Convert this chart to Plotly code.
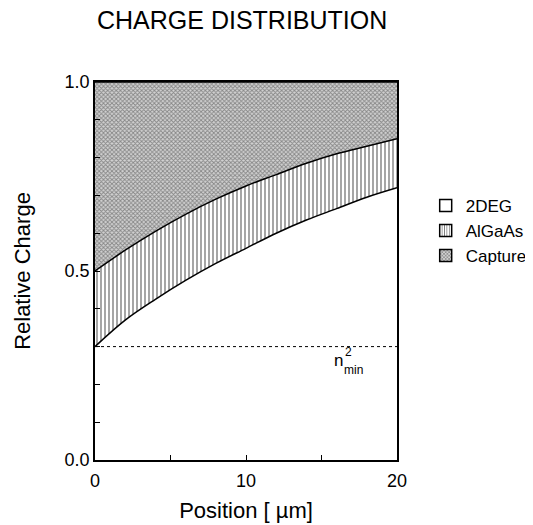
import plotly.graph_objects as go

# Data
position = [0, 2, 4, 6, 8, 10, 12, 14, 16, 18, 20]
deg2_top = [0.30, 0.37, 0.425, 0.475, 0.52, 0.56, 0.60, 0.635, 0.665, 0.695, 0.72]
algaas_top = [0.50, 0.555, 0.605, 0.65, 0.69, 0.725, 0.755, 0.785, 0.81, 0.83, 0.85]
capture_top = [1.0] * len(position)
n_min = 0.3

series_names = ["2DEG", "AlGaAs", "Capture"]

y_ticks = [0.0, 0.1, 0.2, 0.3, 0.4, 0.5, 0.6, 0.7, 0.8, 0.9, 1.0]
y_ticktext = ["0.0", "", "", "", "", "0.5", "", "", "", "", "1.0"]
x_ticks = [0, 5, 10, 15, 20]
x_ticktext = ["0", "", "10", "", "20"]

FONT = "Liberation Sans, Arial, Helvetica, sans-serif"

vert_pattern = dict(shape="|", size=4, solidity=0.35, fgcolor="black", bgcolor="white")
cross_pattern = dict(shape="x", size=3, solidity=0.5, fgcolor="#3a3a3a", bgcolor="#d2d2d2")

fig = go.Figure()
fig.add_trace(go.Scatter(
    x=position, y=deg2_top, name=series_names[0], mode="lines", showlegend=False,
    line=dict(color="black", width=1.5, shape="spline"),
    fill="tozeroy", fillcolor="white",
))
fig.add_trace(go.Scatter(
    x=position, y=algaas_top, name=series_names[1], mode="lines", showlegend=False,
    line=dict(color="black", width=1.5, shape="spline"),
    fill="tonexty", fillcolor="white", fillpattern=vert_pattern,
))
fig.add_trace(go.Scatter(
    x=position, y=capture_top, name=series_names[2], mode="lines", showlegend=False,
    line=dict(color="black", width=1.5),
    fill="tonexty", fillcolor="white", fillpattern=cross_pattern,
))
fig.add_trace(go.Scatter(
    x=[position[0], position[-1]], y=[n_min, n_min], mode="lines", showlegend=False,
    line=dict(color="black", width=1, dash="dot"),
))

# legend entries (box swatches)
legend_markers = [
    dict(color="white", line=dict(color="black", width=1.5)),
    dict(color="white", line=dict(color="black", width=1.5),
         pattern=dict(shape="|", size=3, solidity=0.35, fgcolor="black", bgcolor="white")),
    dict(color="white", line=dict(color="black", width=1.5),
         pattern=dict(shape="x", size=3, solidity=0.5, fgcolor="#3a3a3a", bgcolor="#d2d2d2")),
]
for name, mk in zip(series_names, legend_markers):
    fig.add_trace(go.Bar(x=[None], y=[None], name=name, marker=mk, showlegend=True))

ann_font = dict(family=FONT, color="black")
fig.add_annotation(x=15.7, y=0.262, xref="x", yref="y", text="n", showarrow=False,
                   xanchor="left", yanchor="middle", font=dict(size=17, **ann_font))
fig.add_annotation(x=16.38, y=0.238, xref="x", yref="y", text="min", showarrow=False,
                   xanchor="left", yanchor="middle", font=dict(size=12, **ann_font))
fig.add_annotation(x=16.4, y=0.285, xref="x", yref="y", text="2", showarrow=False,
                   xanchor="left", yanchor="middle", font=dict(size=12, **ann_font))

fig.update_layout(
    width=525, height=517,
    margin=dict(l=87, r=136, t=74, b=65, autoexpand=False),
    paper_bgcolor="white", plot_bgcolor="white",
    font=dict(family=FONT, size=18, color="black"),
    title=dict(text="CHARGE DISTRIBUTION", x=0.446, xanchor="center", y=1.0, yanchor="top",
               pad=dict(t=3), font=dict(family=FONT, size=25, color="black")),
    showlegend=True,
    legend=dict(x=1.095, y=0.72, xanchor="left", yanchor="top", bgcolor="rgba(0,0,0,0)",
                font=dict(family=FONT, size=17), traceorder="normal", itemwidth=30),
)
fig.update_xaxes(range=[0, 20], tickvals=x_ticks, ticktext=x_ticktext, ticks="inside", ticklen=5,
                 tickcolor="black", showline=True, linecolor="black", linewidth=1.5, mirror=True,
                 showgrid=False, zeroline=False, ticklabelstandoff=4, automargin=False,
                 title=dict(text="Position [ µm]", standoff=12), tickfont=dict(size=18))
fig.update_yaxes(range=[0, 1], tickvals=y_ticks, ticktext=y_ticktext, ticks="inside", ticklen=5,
                 tickcolor="black", showline=True, linecolor="black", linewidth=1.5, mirror=True,
                 showgrid=False, zeroline=False, automargin=False,
                 title=dict(text="Relative Charge", standoff=28), tickfont=dict(size=18))

fig.write_html("out.html")
